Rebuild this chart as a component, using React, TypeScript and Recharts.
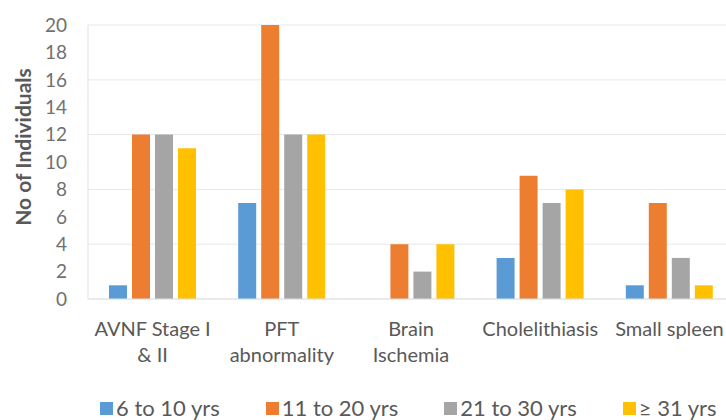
import { BarChart, Bar, XAxis, YAxis, CartesianGrid, Legend } from "recharts";

const categories = [
  "AVNF Stage I\n& II",
  "PFT\nabnormality",
  "Brain\nIschemia",
  "Cholelithiasis",
  "Small spleen",
];
const age6to10 = [1, 7, 0, 3, 1];
const age11to20 = [12, 20, 4, 9, 7];
const age21to30 = [12, 12, 2, 7, 3];
const age31plus = [11, 12, 4, 8, 1];

const seriesNames = ["6 to 10 yrs", "11 to 20 yrs", "21 to 30 yrs", "\u2265 31 yrs"];
const yTicks = [0, 2, 4, 6, 8, 10, 12, 14, 16, 18, 20];
const gridValues = [0, 4, 8, 12, 16, 20];

const data = categories.map((name, i) => ({
  name,
  a: age6to10[i],
  b: age11to20[i],
  c: age21to30[i],
  d: age31plus[i],
}));

const FONT = "Lato, 'Open Sans', sans-serif";
const TEXT = "#595959";

function CategoryTick(props: any) {
  const { x, y, payload } = props;
  const lines = String(payload.value).split("\n");
  return (
    <text x={x} y={y} textAnchor="middle" fill={TEXT} fontSize={20} fontFamily={FONT}>
      {lines.map((line, i) => (
        <tspan key={i} x={x} dy={i === 0 ? 29 : 26}>
          {line}
        </tspan>
      ))}
    </text>
  );
}

function YLabel(props: any) {
  const { viewBox } = props;
  const cy = viewBox.y + viewBox.height / 2 - 15;
  return (
    <text
      x={22}
      y={cy}
      transform={`rotate(-90, 22, ${cy})`}
      textAnchor="middle"
      dominantBaseline="central"
      fill={TEXT}
      fontSize={21}
      fontWeight="bold"
      fontFamily={FONT}
    >
      No of Individuals
    </text>
  );
}

// keep legend in series order (recharts 3 sorts by name otherwise)
function LegendContent(props: any) {
  const items = [...(props.payload || [])].sort(
    (p: any, q: any) => seriesNames.indexOf(p.value) - seriesNames.indexOf(q.value)
  );
  return (
    <div style={{ display: "flex", gap: 46, alignItems: "center", fontFamily: FONT, fontSize: 22, color: TEXT, lineHeight: "24px" }}>
      {items.map((it: any) => (
        <div key={it.value} style={{ display: "flex", alignItems: "center", gap: 3 }}>
          <span style={{ width: 13, height: 13, background: it.color, display: "inline-block" }} />
          <span>{it.value}</span>
        </div>
      ))}
    </div>
  );
}

export default function App() {
  return (
    <div style={{ position: "fixed", left: 0, top: 0, width: 726, height: 420, overflow: "hidden", background: "#fff" }}>
      <BarChart
        width={740}
        height={420}
        data={data}
        margin={{ top: 25, right: 6, left: 0, bottom: 0 }}
        barSize={18}
        barGap={5}
      >
        <CartesianGrid vertical={false} stroke="#e4e8ee" horizontalValues={gridValues} />
        <XAxis
          dataKey="name"
          height={97}
          tickLine={false}
          axisLine={{ stroke: "#dde2e9" }}
          tick={<CategoryTick />}
          interval={0}
        />
        <YAxis
          width={88}
          domain={[0, 20]}
          ticks={yTicks}
          interval={0}
          tickLine={false}
          axisLine={{ stroke: "#dde2e9" }}
          tickMargin={15}
          tick={{ fill: "#707070", fontSize: 19, fontFamily: FONT }}
          label={<YLabel />}
        />
        <Legend
          verticalAlign="bottom"
          content={<LegendContent />}
          wrapperStyle={{ left: 100, bottom: 0, width: 640, height: 24 }}
        />
        <Bar dataKey="a" name={seriesNames[0]} fill="#5b9bd5" isAnimationActive={false} />
        <Bar dataKey="b" name={seriesNames[1]} fill="#ed7d31" isAnimationActive={false} />
        <Bar dataKey="c" name={seriesNames[2]} fill="#a5a5a5" isAnimationActive={false} />
        <Bar dataKey="d" name={seriesNames[3]} fill="#ffc000" isAnimationActive={false} />
      </BarChart>
    </div>
  );
}
